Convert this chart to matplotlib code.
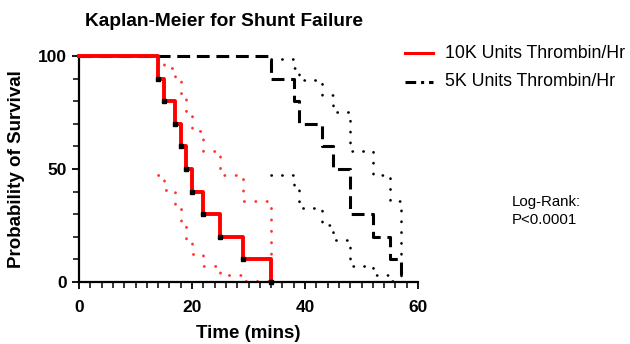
import matplotlib
matplotlib.use("Agg")
import matplotlib.pyplot as plt
from matplotlib.lines import Line2D
from matplotlib.ticker import MultipleLocator

plt.rcParams['font.family'] = ['Liberation Sans', 'DejaVu Sans']

# ---- data ----
t_10k = [0, 14, 15, 17, 18, 19, 20, 22, 25, 29, 34]
s_10k = [100, 90, 80, 70, 60, 50, 40, 30, 20, 10, 0]
ci_t_10k = [14, 15, 17, 18, 19, 20, 22, 25, 29, 34]
ci_hi_10k = [98.5, 94.6, 89.2, 82.7, 75.3, 67.0, 57.8, 47.5, 35.8, 0]
ci_lo_10k = [47.3, 40.9, 32.9, 25.3, 18.4, 12.3, 7.1, 3.1, 0.6, 0]

t_5k = [0, 34, 38, 39, 43, 45, 48, 52, 55, 57]
s_5k = [100, 90, 80, 70, 60, 50, 30, 20, 10, 0]
ci_t_5k = [34, 38, 39, 43, 45, 48, 52, 55, 57]
ci_hi_5k = [98.5, 94.6, 89.2, 82.7, 75.3, 57.8, 47.5, 35.8, 0]
ci_lo_5k = [47.3, 40.9, 32.9, 25.3, 18.4, 7.1, 3.1, 0.6, 0]

series_labels = ["10K Units Thrombin/Hr", "5K Units Thrombin/Hr"]
x_ticks = [0, 20, 40, 60]
y_ticks = [0, 50, 100]

RED = "#ff0000"
W, H = 630, 344
fig = plt.figure(figsize=(W / 100, H / 100), dpi=100)
ax = fig.add_axes([79 / W, 1 - 282 / H, (418 - 79) / W, (282 - 56) / H])

dot = (0, (0.1, 4.0))
# confidence bands
ax.step(ci_t_10k, ci_hi_10k, where='post', color=RED, alpha=0.8, lw=2.0,
        linestyle=dot, dash_capstyle='round', clip_on=False)
ax.step(ci_t_10k, ci_lo_10k, where='post', color=RED, alpha=0.8, lw=2.0,
        linestyle=dot, dash_capstyle='round', clip_on=False)
ax.step(ci_t_5k, ci_hi_5k, where='post', color='black', lw=1.9,
        linestyle=dot, dash_capstyle='round', clip_on=False)
ax.step(ci_t_5k, ci_lo_5k, where='post', color='black', lw=1.9,
        linestyle=dot, dash_capstyle='round', clip_on=False)

# survival curves
ax.step(t_5k, s_5k, where='post', color='black', lw=2.2,
        linestyle=(0, (4.2, 2.2)), clip_on=False, zorder=3)
ax.step(t_10k, s_10k, where='post', color=RED, lw=2.8, clip_on=False, zorder=4)
ax.plot(t_10k[1:], s_10k[1:], linestyle='none', marker='s', ms=2.3,
        color='black', clip_on=False, zorder=5)

ax.set_xlim(0, 60)
ax.set_ylim(0, 100)
ax.set_xticks(x_ticks)
ax.set_yticks(y_ticks)
ax.xaxis.set_minor_locator(MultipleLocator(2))
ax.yaxis.set_minor_locator(MultipleLocator(10))
for s in ['top', 'right']:
    ax.spines[s].set_visible(False)
for s in ['left', 'bottom']:
    ax.spines[s].set_linewidth(1.6)
ax.tick_params(which='major', length=5, width=1.3, labelsize=12.5, pad=4)
ax.tick_params(axis='x', which='major', pad=8)
ax.tick_params(which='minor', length=4, width=1.1)
for lab in ax.get_xticklabels() + ax.get_yticklabels():
    lab.set_fontweight('bold')

ax.set_xlabel("Time (mins)", fontsize=13.5, fontweight='bold', labelpad=7)
ax.set_ylabel("Probability of Survival", fontsize=13.5, fontweight='bold', labelpad=9)

fig.text(224 / W, 1 - 21 / H, "Kaplan-Meier for Shunt Failure", fontsize=13.8,
         fontweight='bold', ha='center', va='center')

# legend (manual)
fig.add_artist(Line2D([405 / W, 433 / W], [1 - 53 / H, 1 - 53 / H], color=RED, lw=2.2,
                      transform=fig.transFigure))
fig.add_artist(Line2D([405 / W, 433 / W], [1 - 82 / H, 1 - 82 / H], color='black', lw=2.2,
                      linestyle=(0, (3.5, 1.6, 1.0, 1.6, 3.5)), transform=fig.transFigure))
fig.text(445 / W, 1 - 53 / H, series_labels[0], fontsize=12.8, ha='left', va='center')
fig.text(445 / W, 1 - 82 / H, series_labels[1], fontsize=12.8, ha='left', va='center')

fig.text(512 / W, 1 - 211 / H, "Log-Rank:\nP<0.0001", fontsize=10.8, ha='left',
         va='center', linespacing=1.4)

fig.savefig("out.png", dpi=100)
